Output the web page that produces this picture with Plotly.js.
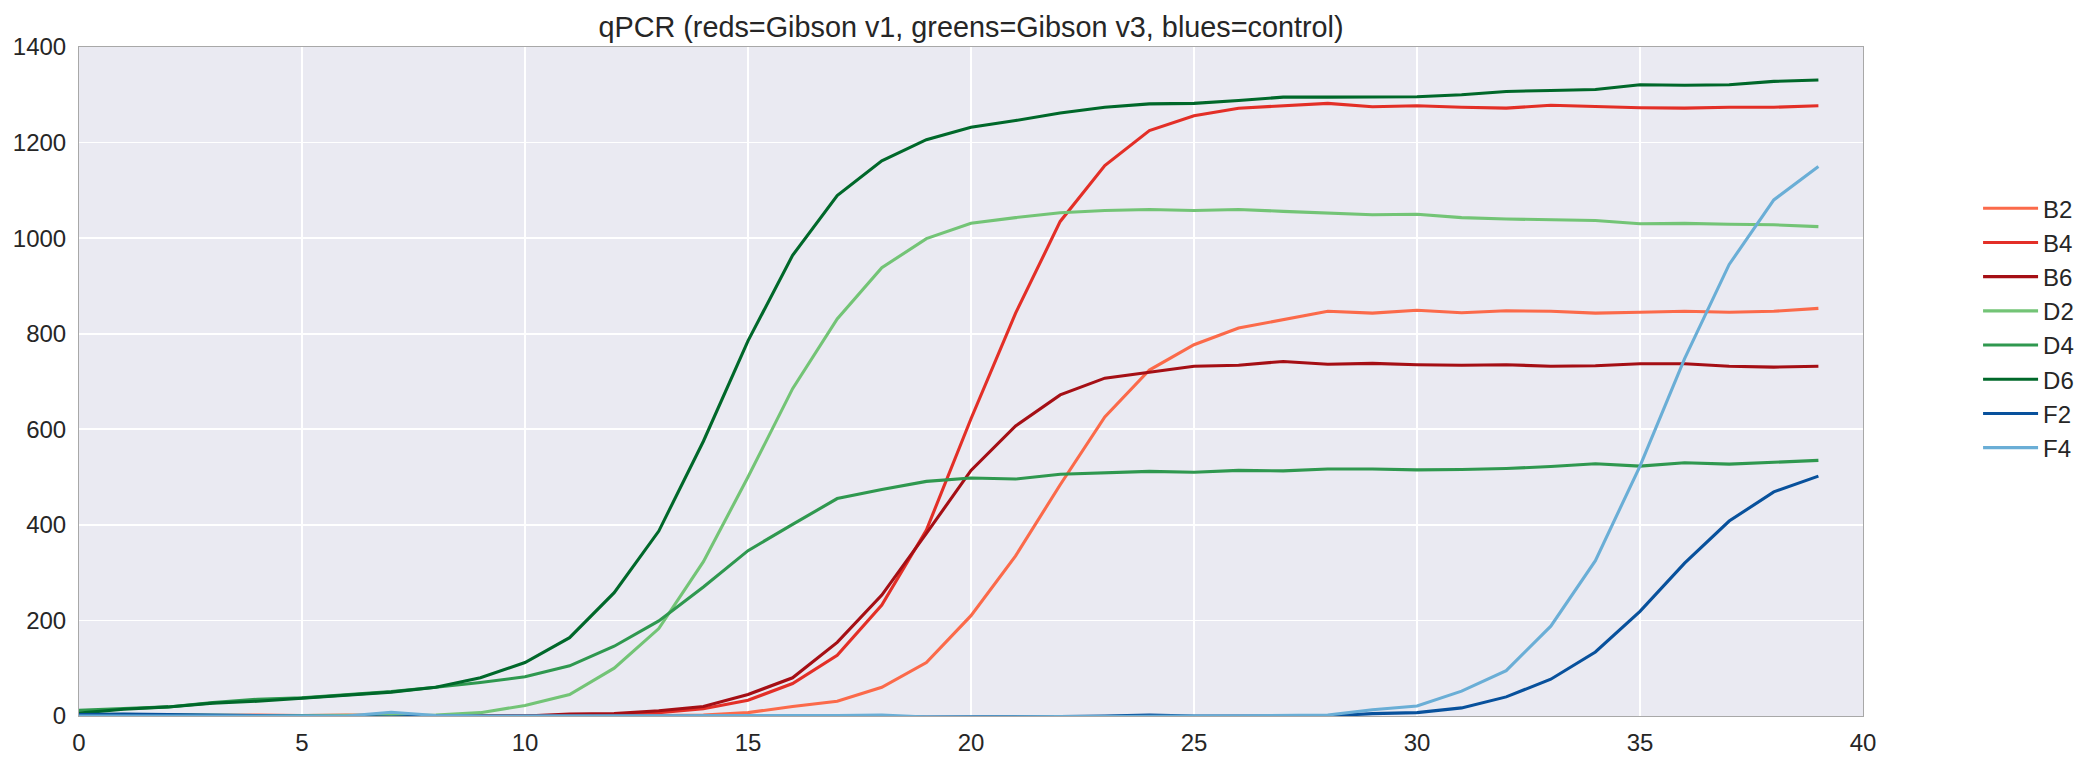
<!DOCTYPE html>
<html>
<head>
<meta charset="utf-8">
<script src="https://cdn.plot.ly/plotly-3.0.1.min.js"></script>
<style>html,body{margin:0;padding:0;background:#fff;}#chart{width:2096px;height:767px;}</style>
</head>
<body>
<div id="chart"></div>
<script>
const cycles = [0,1,2,3,4,5,6,7,8,9,10,11,12,13,14,15,16,17,18,19,20,21,22,23,24,25,26,27,28,29,30,31,32,33,34,35,36,37,38,39];
const seriesNames = ["B2","B4","B6","D2","D4","D6","F2","F4"];
const seriesColors = ["#fb6a4a","#e32f27","#a50f15","#73c476","#2f984f","#00682a","#08519c","#6aaed6"];

const B2 = [0,0,0,1,2,1,2,1,0,0,0,0,0,1,2,7,20,31,60,112,210,335,484,626,724,777,812,829,847,843,849,844,848,847,843,845,847,845,847,853];
const B4 = [0,0,0,0,1,0,1,0,0,0,0,1,3,7,15,33,68,127,232,389,622,843,1035,1152,1225,1256,1272,1277,1282,1275,1277,1274,1272,1278,1275,1273,1272,1274,1274,1277];
const B6 = [0,0,0,0,0,0,0,0,0,0,0,4,5,11,20,45,80,154,253,382,514,607,672,707,720,732,734,742,736,738,735,734,735,732,733,737,737,732,730,732];
const D2 = [4,3,3,2,1,1,1,1,2,7,22,45,100,183,323,500,685,831,938,999,1031,1043,1053,1058,1060,1058,1060,1056,1053,1049,1050,1043,1040,1039,1037,1030,1031,1029,1028,1024];
const D4 = [12,15,19,28,35,38,45,51,60,70,82,105,146,199,270,346,401,455,474,491,498,496,506,509,512,510,514,513,517,517,515,516,518,522,528,523,530,527,531,535];
const D6 = [6,14,19,27,31,37,44,50,60,80,112,164,258,387,575,785,964,1089,1162,1206,1232,1246,1262,1274,1281,1282,1288,1295,1295,1295,1296,1300,1307,1309,1311,1321,1320,1321,1328,1331];
const F2 = [3,4,3,2,1,0,0,-2,0,0,0,0,0,0,0,-1,-1,0,-1,-2,-2,-1,-1,0,2,0,0,0,0,5,7,17,40,77,134,219,320,408,469,502];
const F4 = [0,0,0,0,0,0,0,8,1,0,0,0,0,0,0,0,0,1,2,-2,-2,-1,-1,-1,0,0,0,1,2,13,21,52,95,188,325,523,748,945,1080,1150];
const seriesValues = [B2,B4,B6,D2,D4,D6,F2,F4];

const titleText = "qPCR (reds=Gibson v1, greens=Gibson v3, blues=control)";
const xTicks = [0,5,10,15,20,25,30,35,40];
const yTicks = [0,200,400,600,800,1000,1200,1400];

const font = "'Liberation Sans', Arial, sans-serif";
const traces = seriesNames.map((n, i) => ({
  type: "scatter", mode: "lines", name: n,
  x: cycles, y: seriesValues[i],
  line: {color: seriesColors[i], width: 3.1},
  cliponaxis: true
}));

const axisCommon = {
  showgrid: true, gridcolor: "#ffffff", gridwidth: 1.8,
  zeroline: false, showline: true, mirror: true, linecolor: "#a8a8a8", linewidth: 1,
  ticks: "", tickfont: {family: font, size: 24, color: "#262626"}
};

const layout = {
  width: 2096, height: 767,
  margin: {l: 79, r: 233, t: 47, b: 51, pad: 0},
  paper_bgcolor: "#ffffff", plot_bgcolor: "#eaeaf2",
  title: {text: titleText, font: {family: font, size: 28.8, color: "#262626"}, xref: "paper", x: 0.5, xanchor: "center", yref: "container", y: 0.965, yanchor: "middle"},
  xaxis: Object.assign({}, axisCommon, {range: [0, 40], tickvals: xTicks, ticklabelstandoff: 5}),
  yaxis: Object.assign({}, axisCommon, {range: [0, 1400], tickvals: yTicks, ticklabelstandoff: 7}),
  showlegend: true,
  legend: {x: 1.0645, xanchor: "left", y: 0.792, yanchor: "top", font: {family: font, size: 24, color: "#262626"}, bgcolor: "rgba(0,0,0,0)", tracegroupgap: 0, itemwidth: 55}
};

Plotly.newPlot("chart", traces, layout, {displayModeBar: false, staticPlot: true});
</script>
</body>
</html>
